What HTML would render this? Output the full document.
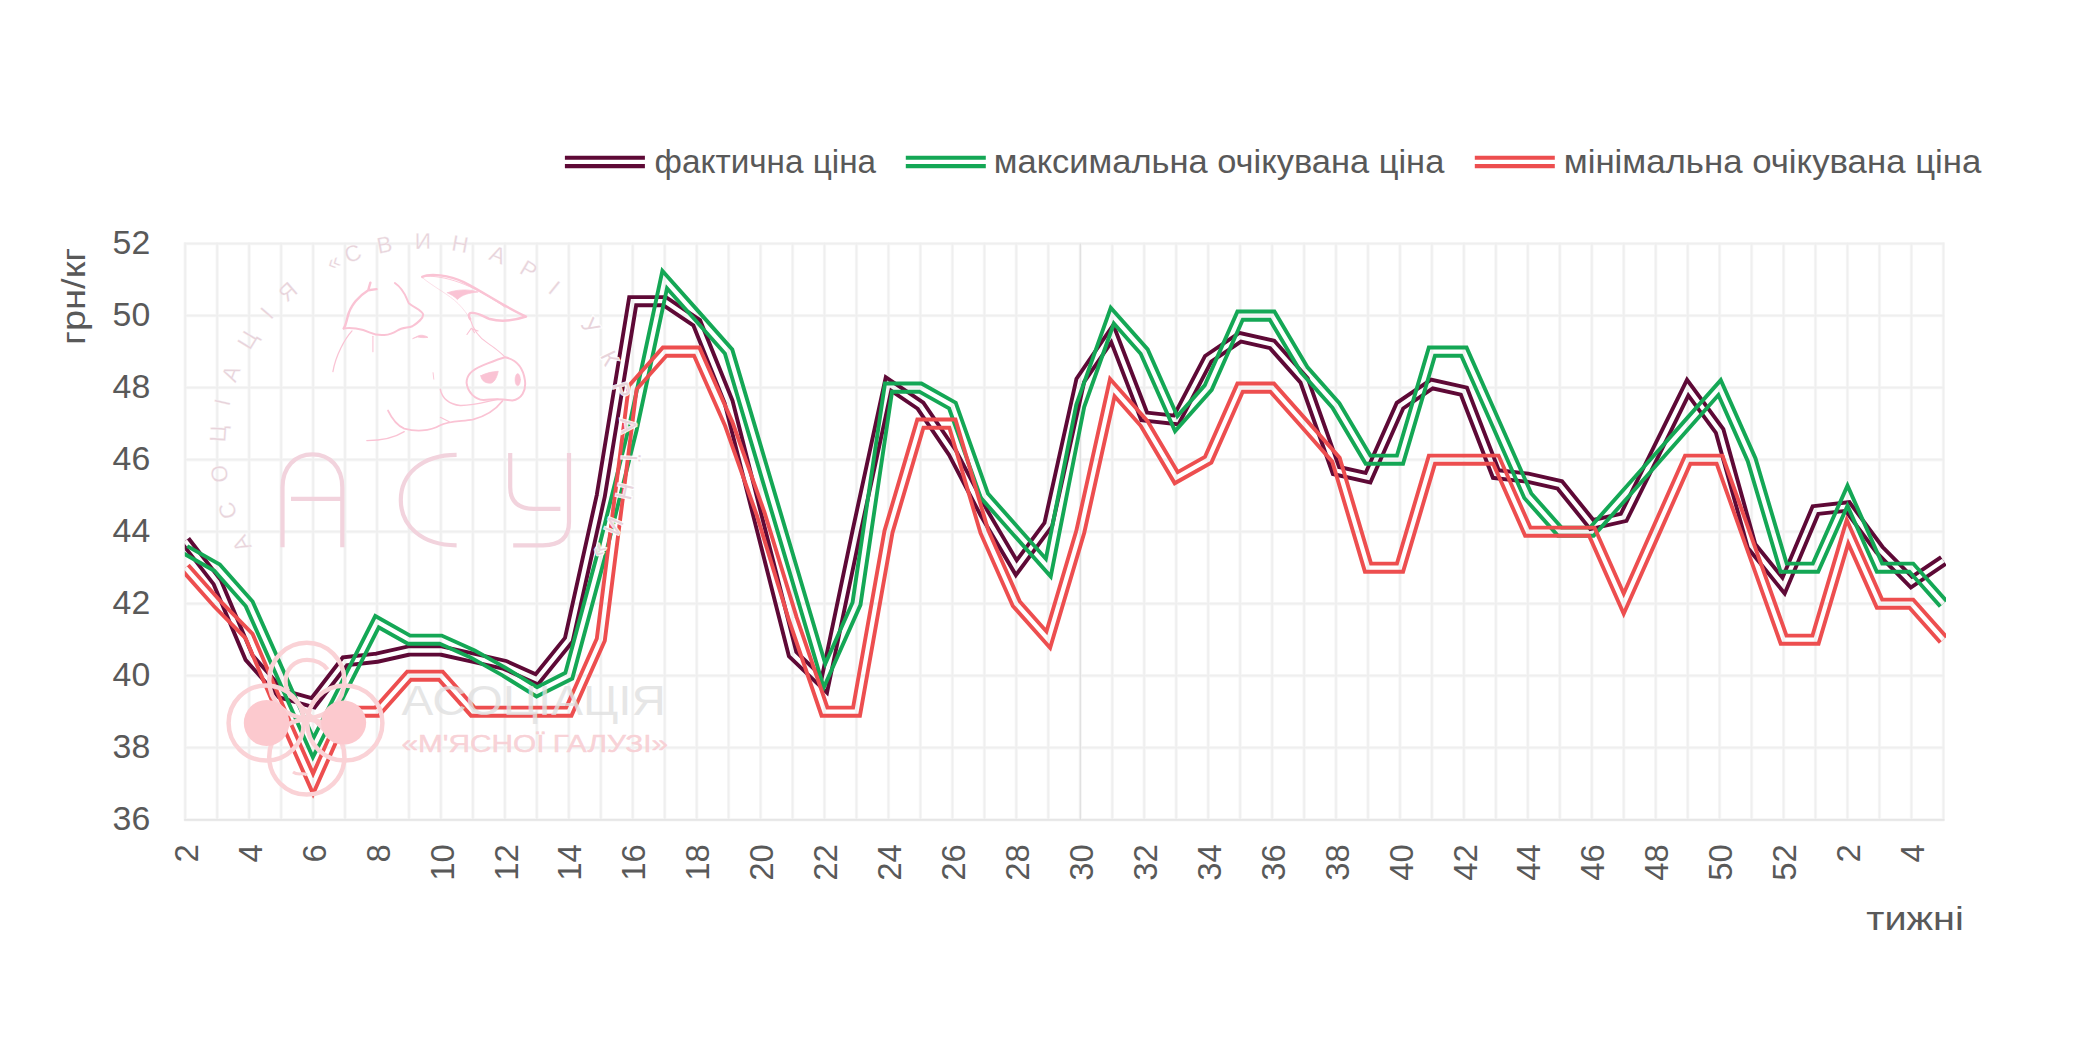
<!DOCTYPE html>
<html lang="uk"><head><meta charset="utf-8"><title>chart</title>
<style>html,body{margin:0;padding:0;background:#fff}svg{display:block}text{font-family:"Liberation Sans",sans-serif}</style>
</head><body>
<svg width="2079" height="1055" viewBox="0 0 2079 1055">
<rect width="2079" height="1055" fill="#fff"/>
<path d="M185.2 242.6V820.8M217.2 242.6V820.8M249.1 242.6V820.8M281.1 242.6V820.8M313.1 242.6V820.8M345.0 242.6V820.8M377.0 242.6V820.8M409.0 242.6V820.8M440.9 242.6V820.8M472.9 242.6V820.8M504.9 242.6V820.8M536.8 242.6V820.8M568.8 242.6V820.8M600.8 242.6V820.8M632.7 242.6V820.8M664.7 242.6V820.8M696.7 242.6V820.8M728.6 242.6V820.8M760.6 242.6V820.8M792.6 242.6V820.8M824.5 242.6V820.8M856.5 242.6V820.8M888.5 242.6V820.8M920.4 242.6V820.8M952.4 242.6V820.8M984.4 242.6V820.8M1016.3 242.6V820.8M1048.3 242.6V820.8M1080.3 242.6V820.8M1112.3 242.6V820.8M1144.2 242.6V820.8M1176.2 242.6V820.8M1208.2 242.6V820.8M1240.1 242.6V820.8M1272.1 242.6V820.8M1304.1 242.6V820.8M1336.0 242.6V820.8M1368.0 242.6V820.8M1400.0 242.6V820.8M1431.9 242.6V820.8M1463.9 242.6V820.8M1495.9 242.6V820.8M1527.8 242.6V820.8M1559.8 242.6V820.8M1591.8 242.6V820.8M1623.7 242.6V820.8M1655.7 242.6V820.8M1687.7 242.6V820.8M1719.6 242.6V820.8M1751.6 242.6V820.8M1783.6 242.6V820.8M1815.5 242.6V820.8M1847.5 242.6V820.8M1879.5 242.6V820.8M1911.4 242.6V820.8M1943.4 242.6V820.8M184.2 819.8H1944.4M184.2 747.7H1944.4M184.2 675.7H1944.4M184.2 603.7H1944.4M184.2 531.7H1944.4M184.2 459.7H1944.4M184.2 387.6H1944.4M184.2 315.6H1944.4M184.2 243.6H1944.4" fill="none" stroke="#f7f7f7" stroke-width="3.4"/>
<path d="M185.2 242.6V820.8M217.2 242.6V820.8M249.1 242.6V820.8M281.1 242.6V820.8M313.1 242.6V820.8M345.0 242.6V820.8M377.0 242.6V820.8M409.0 242.6V820.8M440.9 242.6V820.8M472.9 242.6V820.8M504.9 242.6V820.8M536.8 242.6V820.8M568.8 242.6V820.8M600.8 242.6V820.8M632.7 242.6V820.8M664.7 242.6V820.8M696.7 242.6V820.8M728.6 242.6V820.8M760.6 242.6V820.8M792.6 242.6V820.8M824.5 242.6V820.8M856.5 242.6V820.8M888.5 242.6V820.8M920.4 242.6V820.8M952.4 242.6V820.8M984.4 242.6V820.8M1016.3 242.6V820.8M1048.3 242.6V820.8M1080.3 242.6V820.8M1112.3 242.6V820.8M1144.2 242.6V820.8M1176.2 242.6V820.8M1208.2 242.6V820.8M1240.1 242.6V820.8M1272.1 242.6V820.8M1304.1 242.6V820.8M1336.0 242.6V820.8M1368.0 242.6V820.8M1400.0 242.6V820.8M1431.9 242.6V820.8M1463.9 242.6V820.8M1495.9 242.6V820.8M1527.8 242.6V820.8M1559.8 242.6V820.8M1591.8 242.6V820.8M1623.7 242.6V820.8M1655.7 242.6V820.8M1687.7 242.6V820.8M1719.6 242.6V820.8M1751.6 242.6V820.8M1783.6 242.6V820.8M1815.5 242.6V820.8M1847.5 242.6V820.8M1879.5 242.6V820.8M1911.4 242.6V820.8M1943.4 242.6V820.8M184.2 819.8H1944.4M184.2 747.7H1944.4M184.2 675.7H1944.4M184.2 603.7H1944.4M184.2 531.7H1944.4M184.2 459.7H1944.4M184.2 387.6H1944.4M184.2 315.6H1944.4M184.2 243.6H1944.4" fill="none" stroke="#efefef" stroke-width="1.7"/>
<path d="M184.2 819.8H1944.4" fill="none" stroke="#e6e6e6" stroke-width="1.8"/>
<path d="M1080.3 243.6V819.8" fill="none" stroke="#d9d9d9" stroke-width="0.8"/>
<text x="150.2" y="830.2" font-size="33" fill="#595959" text-anchor="end" textLength="37.6" lengthAdjust="spacingAndGlyphs">36</text>
<text x="150.2" y="758.1" font-size="33" fill="#595959" text-anchor="end" textLength="37.6" lengthAdjust="spacingAndGlyphs">38</text>
<text x="150.2" y="686.1" font-size="33" fill="#595959" text-anchor="end" textLength="37.6" lengthAdjust="spacingAndGlyphs">40</text>
<text x="150.2" y="614.1" font-size="33" fill="#595959" text-anchor="end" textLength="37.6" lengthAdjust="spacingAndGlyphs">42</text>
<text x="150.2" y="542.1" font-size="33" fill="#595959" text-anchor="end" textLength="37.6" lengthAdjust="spacingAndGlyphs">44</text>
<text x="150.2" y="470.1" font-size="33" fill="#595959" text-anchor="end" textLength="37.6" lengthAdjust="spacingAndGlyphs">46</text>
<text x="150.2" y="398.0" font-size="33" fill="#595959" text-anchor="end" textLength="37.6" lengthAdjust="spacingAndGlyphs">48</text>
<text x="150.2" y="326.0" font-size="33" fill="#595959" text-anchor="end" textLength="37.6" lengthAdjust="spacingAndGlyphs">50</text>
<text x="150.2" y="254.0" font-size="33" fill="#595959" text-anchor="end" textLength="37.6" lengthAdjust="spacingAndGlyphs">52</text>
<text transform="translate(85.4 345.0) rotate(-90)" font-size="33" fill="#595959" textLength="97.2" lengthAdjust="spacingAndGlyphs">грн/кг</text>
<text transform="translate(197.8 844.2) rotate(-90)" font-size="33" fill="#595959" text-anchor="end" textLength="18.3" lengthAdjust="spacingAndGlyphs">2</text>
<text transform="translate(261.7 844.2) rotate(-90)" font-size="33" fill="#595959" text-anchor="end" textLength="18.3" lengthAdjust="spacingAndGlyphs">4</text>
<text transform="translate(325.7 844.2) rotate(-90)" font-size="33" fill="#595959" text-anchor="end" textLength="18.3" lengthAdjust="spacingAndGlyphs">6</text>
<text transform="translate(389.6 844.2) rotate(-90)" font-size="33" fill="#595959" text-anchor="end" textLength="18.3" lengthAdjust="spacingAndGlyphs">8</text>
<text transform="translate(453.5 844.2) rotate(-90)" font-size="33" fill="#595959" text-anchor="end" textLength="36.6" lengthAdjust="spacingAndGlyphs">10</text>
<text transform="translate(517.5 844.2) rotate(-90)" font-size="33" fill="#595959" text-anchor="end" textLength="36.6" lengthAdjust="spacingAndGlyphs">12</text>
<text transform="translate(581.4 844.2) rotate(-90)" font-size="33" fill="#595959" text-anchor="end" textLength="36.6" lengthAdjust="spacingAndGlyphs">14</text>
<text transform="translate(645.3 844.2) rotate(-90)" font-size="33" fill="#595959" text-anchor="end" textLength="36.6" lengthAdjust="spacingAndGlyphs">16</text>
<text transform="translate(709.3 844.2) rotate(-90)" font-size="33" fill="#595959" text-anchor="end" textLength="36.6" lengthAdjust="spacingAndGlyphs">18</text>
<text transform="translate(773.2 844.2) rotate(-90)" font-size="33" fill="#595959" text-anchor="end" textLength="36.6" lengthAdjust="spacingAndGlyphs">20</text>
<text transform="translate(837.1 844.2) rotate(-90)" font-size="33" fill="#595959" text-anchor="end" textLength="36.6" lengthAdjust="spacingAndGlyphs">22</text>
<text transform="translate(901.1 844.2) rotate(-90)" font-size="33" fill="#595959" text-anchor="end" textLength="36.6" lengthAdjust="spacingAndGlyphs">24</text>
<text transform="translate(965.0 844.2) rotate(-90)" font-size="33" fill="#595959" text-anchor="end" textLength="36.6" lengthAdjust="spacingAndGlyphs">26</text>
<text transform="translate(1028.9 844.2) rotate(-90)" font-size="33" fill="#595959" text-anchor="end" textLength="36.6" lengthAdjust="spacingAndGlyphs">28</text>
<text transform="translate(1092.9 844.2) rotate(-90)" font-size="33" fill="#595959" text-anchor="end" textLength="36.6" lengthAdjust="spacingAndGlyphs">30</text>
<text transform="translate(1156.8 844.2) rotate(-90)" font-size="33" fill="#595959" text-anchor="end" textLength="36.6" lengthAdjust="spacingAndGlyphs">32</text>
<text transform="translate(1220.8 844.2) rotate(-90)" font-size="33" fill="#595959" text-anchor="end" textLength="36.6" lengthAdjust="spacingAndGlyphs">34</text>
<text transform="translate(1284.7 844.2) rotate(-90)" font-size="33" fill="#595959" text-anchor="end" textLength="36.6" lengthAdjust="spacingAndGlyphs">36</text>
<text transform="translate(1348.6 844.2) rotate(-90)" font-size="33" fill="#595959" text-anchor="end" textLength="36.6" lengthAdjust="spacingAndGlyphs">38</text>
<text transform="translate(1412.6 844.2) rotate(-90)" font-size="33" fill="#595959" text-anchor="end" textLength="36.6" lengthAdjust="spacingAndGlyphs">40</text>
<text transform="translate(1476.5 844.2) rotate(-90)" font-size="33" fill="#595959" text-anchor="end" textLength="36.6" lengthAdjust="spacingAndGlyphs">42</text>
<text transform="translate(1540.4 844.2) rotate(-90)" font-size="33" fill="#595959" text-anchor="end" textLength="36.6" lengthAdjust="spacingAndGlyphs">44</text>
<text transform="translate(1604.4 844.2) rotate(-90)" font-size="33" fill="#595959" text-anchor="end" textLength="36.6" lengthAdjust="spacingAndGlyphs">46</text>
<text transform="translate(1668.3 844.2) rotate(-90)" font-size="33" fill="#595959" text-anchor="end" textLength="36.6" lengthAdjust="spacingAndGlyphs">48</text>
<text transform="translate(1732.2 844.2) rotate(-90)" font-size="33" fill="#595959" text-anchor="end" textLength="36.6" lengthAdjust="spacingAndGlyphs">50</text>
<text transform="translate(1796.2 844.2) rotate(-90)" font-size="33" fill="#595959" text-anchor="end" textLength="36.6" lengthAdjust="spacingAndGlyphs">52</text>
<text transform="translate(1860.1 844.2) rotate(-90)" font-size="33" fill="#595959" text-anchor="end" textLength="18.3" lengthAdjust="spacingAndGlyphs">2</text>
<text transform="translate(1924.0 844.2) rotate(-90)" font-size="33" fill="#595959" text-anchor="end" textLength="18.3" lengthAdjust="spacingAndGlyphs">4</text>
<text x="1866.3" y="929.6" font-size="33" fill="#595959" textLength="97.5" lengthAdjust="spacingAndGlyphs">тижні</text>
<path d="M564.9 157.7H644.9M564.9 166.15H644.9" stroke="#5e0936" stroke-width="4.1" fill="none"/>
<text x="654.6" y="172.6" font-size="33" fill="#595959" textLength="221.5" lengthAdjust="spacingAndGlyphs">фактична ціна</text>
<path d="M905.8 157.7H985.8M905.8 166.15H985.8" stroke="#14a755" stroke-width="4.1" fill="none"/>
<text x="993.8" y="172.6" font-size="33" fill="#595959" textLength="450.5" lengthAdjust="spacingAndGlyphs">максимальна очікувана ціна</text>
<path d="M1474.8 157.7H1554.8M1474.8 166.15H1554.8" stroke="#ed4e4f" stroke-width="4.1" fill="none"/>
<text x="1563.8" y="172.6" font-size="33" fill="#595959" textLength="417.5" lengthAdjust="spacingAndGlyphs">мінімальна очікувана ціна</text>
<defs>
<mask id="mp" maskUnits="userSpaceOnUse" x="0" y="0" width="2079" height="1055"><polyline points="185.2,540.7 217.2,582.1 249.1,657.7 281.1,693.7 313.1,702.7 345.0,661.3 377.0,657.7 409.0,650.5 440.9,650.5 472.9,657.7 504.9,664.9 536.8,679.3 568.8,639.7 600.8,495.7 632.7,301.2 664.7,301.2 696.7,322.8 728.6,402.0 760.6,528.1 792.6,654.1 824.5,684.7 856.5,531.7 888.5,384.0 920.4,405.6 952.4,452.5 984.4,513.7 1016.3,567.7 1048.3,524.5 1080.3,380.4 1112.3,333.6 1144.2,416.4 1176.2,420.0 1208.2,358.8 1240.1,337.2 1272.1,344.4 1304.1,380.4 1336.0,470.5 1368.0,477.7 1400.0,405.6 1431.9,384.0 1463.9,391.2 1495.9,474.1 1527.8,477.7 1559.8,484.9 1591.8,524.5 1623.7,517.3 1655.7,452.5 1687.7,387.6 1719.6,430.9 1751.6,546.1 1783.6,585.7 1815.5,510.1 1847.5,506.5 1879.5,549.7 1911.4,582.1 1943.4,560.5" fill="none" stroke="#fff" stroke-width="12.1" stroke-linejoin="miter" stroke-miterlimit="8"/><polyline points="185.2,540.7 217.2,582.1 249.1,657.7 281.1,693.7 313.1,702.7 345.0,661.3 377.0,657.7 409.0,650.5 440.9,650.5 472.9,657.7 504.9,664.9 536.8,679.3 568.8,639.7 600.8,495.7 632.7,301.2 664.7,301.2 696.7,322.8 728.6,402.0 760.6,528.1 792.6,654.1 824.5,684.7 856.5,531.7 888.5,384.0 920.4,405.6 952.4,452.5 984.4,513.7 1016.3,567.7 1048.3,524.5 1080.3,380.4 1112.3,333.6 1144.2,416.4 1176.2,420.0 1208.2,358.8 1240.1,337.2 1272.1,344.4 1304.1,380.4 1336.0,470.5 1368.0,477.7 1400.0,405.6 1431.9,384.0 1463.9,391.2 1495.9,474.1 1527.8,477.7 1559.8,484.9 1591.8,524.5 1623.7,517.3 1655.7,452.5 1687.7,387.6 1719.6,430.9 1751.6,546.1 1783.6,585.7 1815.5,510.1 1847.5,506.5 1879.5,549.7 1911.4,582.1 1943.4,560.5" fill="none" stroke="#000" stroke-width="4.3" stroke-linejoin="miter" stroke-miterlimit="8"/></mask>
<mask id="mg" maskUnits="userSpaceOnUse" x="0" y="0" width="2079" height="1055"><polyline points="185.2,549.7 217.2,567.7 249.1,603.7 281.1,675.7 313.1,747.7 345.0,684.7 377.0,621.7 409.0,639.7 440.9,639.7 472.9,654.1 504.9,672.1 536.8,691.9 568.8,675.7 600.8,556.9 632.7,429.1 664.7,279.6 696.7,315.6 728.6,351.6 760.6,459.7 792.6,567.7 824.5,675.7 856.5,603.7 888.5,387.6 920.4,387.6 952.4,405.6 984.4,495.7 1016.3,531.7 1048.3,567.7 1080.3,405.6 1112.3,315.6 1144.2,351.6 1176.2,423.6 1208.2,387.6 1240.1,315.6 1272.1,315.6 1304.1,369.6 1336.0,405.6 1368.0,459.7 1400.0,459.7 1431.9,351.6 1463.9,351.6 1495.9,423.6 1527.8,495.7 1559.8,531.7 1591.8,531.7 1623.7,495.7 1655.7,459.7 1687.7,423.6 1719.6,387.6 1751.6,459.7 1783.6,567.7 1815.5,567.7 1847.5,495.7 1879.5,567.7 1911.4,567.7 1943.4,603.7" fill="none" stroke="#fff" stroke-width="12.1" stroke-linejoin="miter" stroke-miterlimit="8"/><polyline points="185.2,549.7 217.2,567.7 249.1,603.7 281.1,675.7 313.1,747.7 345.0,684.7 377.0,621.7 409.0,639.7 440.9,639.7 472.9,654.1 504.9,672.1 536.8,691.9 568.8,675.7 600.8,556.9 632.7,429.1 664.7,279.6 696.7,315.6 728.6,351.6 760.6,459.7 792.6,567.7 824.5,675.7 856.5,603.7 888.5,387.6 920.4,387.6 952.4,405.6 984.4,495.7 1016.3,531.7 1048.3,567.7 1080.3,405.6 1112.3,315.6 1144.2,351.6 1176.2,423.6 1208.2,387.6 1240.1,315.6 1272.1,315.6 1304.1,369.6 1336.0,405.6 1368.0,459.7 1400.0,459.7 1431.9,351.6 1463.9,351.6 1495.9,423.6 1527.8,495.7 1559.8,531.7 1591.8,531.7 1623.7,495.7 1655.7,459.7 1687.7,423.6 1719.6,387.6 1751.6,459.7 1783.6,567.7 1815.5,567.7 1847.5,495.7 1879.5,567.7 1911.4,567.7 1943.4,603.7" fill="none" stroke="#000" stroke-width="4.3" stroke-linejoin="miter" stroke-miterlimit="8"/></mask>
<mask id="mr" maskUnits="userSpaceOnUse" x="0" y="0" width="2079" height="1055"><polyline points="185.2,567.7 217.2,603.7 249.1,636.1 281.1,711.7 313.1,783.8 345.0,711.7 377.0,711.7 409.0,675.7 440.9,675.7 472.9,711.7 504.9,711.7 536.8,711.7 568.8,711.7 600.8,639.7 632.7,387.6 664.7,351.6 696.7,351.6 728.6,423.6 760.6,513.7 792.6,618.1 824.5,711.7 856.5,711.7 888.5,531.7 920.4,423.6 952.4,423.6 984.4,531.7 1016.3,603.7 1048.3,639.7 1080.3,531.7 1112.3,387.6 1144.2,423.6 1176.2,477.7 1208.2,459.7 1240.1,387.6 1272.1,387.6 1304.1,423.6 1336.0,459.7 1368.0,567.7 1400.0,567.7 1431.9,459.7 1463.9,459.7 1495.9,459.7 1527.8,531.7 1559.8,531.7 1591.8,531.7 1623.7,603.7 1655.7,531.7 1687.7,459.7 1719.6,459.7 1751.6,549.7 1783.6,639.7 1815.5,639.7 1847.5,531.7 1879.5,603.7 1911.4,603.7 1943.4,639.7" fill="none" stroke="#fff" stroke-width="12.1" stroke-linejoin="miter" stroke-miterlimit="8"/><polyline points="185.2,567.7 217.2,603.7 249.1,636.1 281.1,711.7 313.1,783.8 345.0,711.7 377.0,711.7 409.0,675.7 440.9,675.7 472.9,711.7 504.9,711.7 536.8,711.7 568.8,711.7 600.8,639.7 632.7,387.6 664.7,351.6 696.7,351.6 728.6,423.6 760.6,513.7 792.6,618.1 824.5,711.7 856.5,711.7 888.5,531.7 920.4,423.6 952.4,423.6 984.4,531.7 1016.3,603.7 1048.3,639.7 1080.3,531.7 1112.3,387.6 1144.2,423.6 1176.2,477.7 1208.2,459.7 1240.1,387.6 1272.1,387.6 1304.1,423.6 1336.0,459.7 1368.0,567.7 1400.0,567.7 1431.9,459.7 1463.9,459.7 1495.9,459.7 1527.8,531.7 1559.8,531.7 1591.8,531.7 1623.7,603.7 1655.7,531.7 1687.7,459.7 1719.6,459.7 1751.6,549.7 1783.6,639.7 1815.5,639.7 1847.5,531.7 1879.5,603.7 1911.4,603.7 1943.4,639.7" fill="none" stroke="#000" stroke-width="4.3" stroke-linejoin="miter" stroke-miterlimit="8"/></mask>
<clipPath id="cp"><rect x="184.8" y="200" width="1761.2" height="660"/></clipPath>
</defs>
<g clip-path="url(#cp)"><rect x="150" y="200" width="1850" height="660" fill="#5e0936" mask="url(#mp)"/></g>
<g clip-path="url(#cp)"><rect x="150" y="200" width="1850" height="660" fill="#14a755" mask="url(#mg)"/></g>
<g clip-path="url(#cp)"><rect x="150" y="200" width="1850" height="660" fill="#ed4e4f" mask="url(#mr)"/></g>
<g font-size="22.6" fill="#e8d4db" text-anchor="middle">
<text transform="translate(248.5 540.0) rotate(242.0)" stroke="#fff" stroke-width="0.2">А</text>
<text transform="translate(235.0 508.2) rotate(252.0)" stroke="#fff" stroke-width="0.2">С</text>
<text transform="translate(227.0 472.8) rotate(262.5)" stroke="#fff" stroke-width="0.2">О</text>
<text transform="translate(225.7 434.1) rotate(273.7)" stroke="#fff" stroke-width="0.2">Ц</text>
<text transform="translate(230.0 404.0) rotate(282.5)" stroke="#fff" stroke-width="0.2">І</text>
<text transform="translate(238.3 376.2) rotate(290.9)" stroke="#fff" stroke-width="0.2">А</text>
<text transform="translate(254.2 343.9) rotate(301.3)" stroke="#fff" stroke-width="0.2">Ц</text>
<text transform="translate(272.8 318.1) rotate(310.5)" stroke="#fff" stroke-width="0.2">І</text>
<text transform="translate(293.0 297.7) rotate(318.8)" stroke="#fff" stroke-width="0.2">Я</text>
<text transform="translate(336.7 268.7) rotate(334.0)" stroke="#fff" stroke-width="0.2">«</text>
<text transform="translate(355.5 260.7) rotate(339.9)" stroke="#fff" stroke-width="0.2">С</text>
<text transform="translate(385.8 252.2) rotate(349.0)" stroke="#fff" stroke-width="0.2">В</text>
<text transform="translate(422.9 248.6) rotate(359.8)" stroke="#fff" stroke-width="0.2">И</text>
<text transform="translate(458.7 251.7) rotate(370.2)" stroke="#fff" stroke-width="0.2">Н</text>
<text transform="translate(495.0 261.9) rotate(381.1)" stroke="#fff" stroke-width="0.2">А</text>
<text transform="translate(524.8 276.4) rotate(390.7)" stroke="#fff" stroke-width="0.2">Р</text>
<text transform="translate(549.5 293.7) rotate(399.4)" stroke="#fff" stroke-width="0.2">І</text>
<text transform="translate(584.2 330.6) rotate(414.1)" stroke="#fff" stroke-width="2.2" paint-order="stroke" stroke-opacity="0.9">У</text>
<text transform="translate(602.6 361.5) rotate(424.5)" stroke="#fff" stroke-width="2.2" paint-order="stroke" stroke-opacity="0.9">К</text>
<text transform="translate(614.1 391.9) rotate(433.9)" stroke="#fff" stroke-width="2.2" paint-order="stroke" stroke-opacity="0.9">Р</text>
<text transform="translate(620.8 426.2) rotate(444.0)" stroke="#fff" stroke-width="2.2" paint-order="stroke" stroke-opacity="0.9">А</text>
<text transform="translate(621.6 457.3) rotate(453.0)" stroke="#fff" stroke-width="2.2" paint-order="stroke" stroke-opacity="0.9">Ї</text>
<text transform="translate(617.2 489.8) rotate(462.5)" stroke="#fff" stroke-width="2.2" paint-order="stroke" stroke-opacity="0.9">Н</text>
<text transform="translate(606.7 523.1) rotate(472.6)" stroke="#fff" stroke-width="2.2" paint-order="stroke" stroke-opacity="0.9">И</text>
<text transform="translate(594.5 547.5) rotate(480.5)" stroke="#fff" stroke-width="2.2" paint-order="stroke" stroke-opacity="0.9">»</text>
</g>
<g fill="none" stroke="#f2d3dd" stroke-width="4.2">
<path d="M282.5 547.2V487.5C282.5 467 295 454.3 312.4 454.3S342.3 467 342.3 487.5V547.2M291 498.8H342.3"/>
<path d="M456.6 454.8C421 454.8 400.8 475 400.8 500S421 545.3 456.6 545.3"/>
<path d="M510.2 453V487C510.2 502 519 508.8 534 508.8H560.4M569 453V522C569 538 560 545.3 543 545.3H513.2"/>
</g>
<g transform="translate(325 265) scale(0.18012)" fill="none" stroke="#fac3d4" stroke-width="13.5" stroke-linecap="round" stroke-linejoin="round">
<path d="M252 98L240 140L286 134M240 140C190 170 140 225 125 290C118 320 112 340 104 352"/>
<path d="M104 352C140 345 200 352 250 375C300 398 360 392 400 365C430 345 460 350 485 340C515 320 545 300 545 275C540 250 500 240 465 212C450 180 440 135 388 100" stroke-width="11"/>
<path d="M150 366C110 410 60 500 44 592" stroke-width="7"/>
<path d="M266 396V482" stroke-width="6"/>
<path d="M488 408L512 396C530 384 560 392 572 402C550 404 530 404 515 400Z" fill="#fac3d4" stroke-width="4"/>
<path d="M540 66C580 45 690 55 770 95C880 150 1000 235 1116 286C1060 305 980 318 915 300C880 288 850 262 812 266C796 268 796 285 806 300"/>
<path d="M540 70C600 120 690 165 740 215C770 245 790 275 800 290" stroke-width="5" stroke-opacity="0.6"/>
<path d="M680 154C730 136 800 132 850 150C800 155 760 165 735 192C720 175 700 165 680 154Z" fill="#fac3d4" stroke-width="4"/>
<path d="M560 62C700 60 850 130 1000 235" stroke-width="5"/>
<path d="M788 386L812 352L850 366M815 352L830 376" stroke-width="6"/>
<path d="M806 300C820 350 850 400 905 435C945 462 975 485 1000 512" stroke-width="6"/>
<path d="M1000 512C1060 525 1100 570 1110 640C1118 700 1090 745 1040 752C990 745 940 742 880 750C830 745 792 705 786 655C785 610 820 580 870 560C920 540 960 522 1000 512Z" stroke-width="11"/>
<path d="M865 615C890 600 930 592 962 590C955 620 945 645 925 655C895 660 868 645 865 615Z" fill="#fac3d4" stroke-width="4"/>
<ellipse cx="1070" cy="637" rx="15" ry="34" fill="#fac3d4" stroke-width="3"/>
<path d="M640 690C650 740 690 775 750 780C820 782 890 760 960 745" stroke-width="8"/>
<path d="M600 598L604 634" stroke-width="5"/>
<path d="M350 808C375 860 410 895 440 908C500 925 580 925 640 890C680 865 760 868 820 858C900 838 950 800 985 755" stroke-width="10"/>
<path d="M440 925C400 950 330 975 232 975" stroke-width="7"/>
<path d="M640 845L690 870" stroke-width="6"/>
</g>
<g fill="none" stroke="#fad2d6" stroke-width="4.5">
<circle cx="306.8" cy="680.4" r="37.6"/>
<circle cx="266.2" cy="723" r="37.6"/>
<circle cx="344.8" cy="723" r="37.6"/>
<circle cx="306.8" cy="757" r="37.6"/>
<path d="M327.5 669.5C323 663 315 659.8 307 659.8C294 659.8 285.6 670 285.6 681C285.6 690 289 696 295 700L336 742" stroke-width="4.2"/>
<path d="M293 772C298 776 303 772 307 775" stroke-width="3"/>
</g>
<ellipse cx="266.6" cy="723" rx="22.8" ry="23" fill="#fcc9ce"/>
<ellipse cx="343.6" cy="722.6" rx="22.6" ry="22" fill="#fcc9ce"/>
<text x="401.5" y="714.6" font-size="42.6" fill="#e0e0e0" fill-opacity="0.78" textLength="264.5" lengthAdjust="spacingAndGlyphs">АСОЦІАЦІЯ</text>
<text x="401.5" y="752" font-size="24.4" fill="#f8cfd4" fill-opacity="0.92" stroke="#f8cfd4" stroke-width="0.5" stroke-opacity="0.9" textLength="266.5" lengthAdjust="spacingAndGlyphs">«М'ЯСНОЇ ГАЛУЗІ»</text>
</svg>
</body></html>
